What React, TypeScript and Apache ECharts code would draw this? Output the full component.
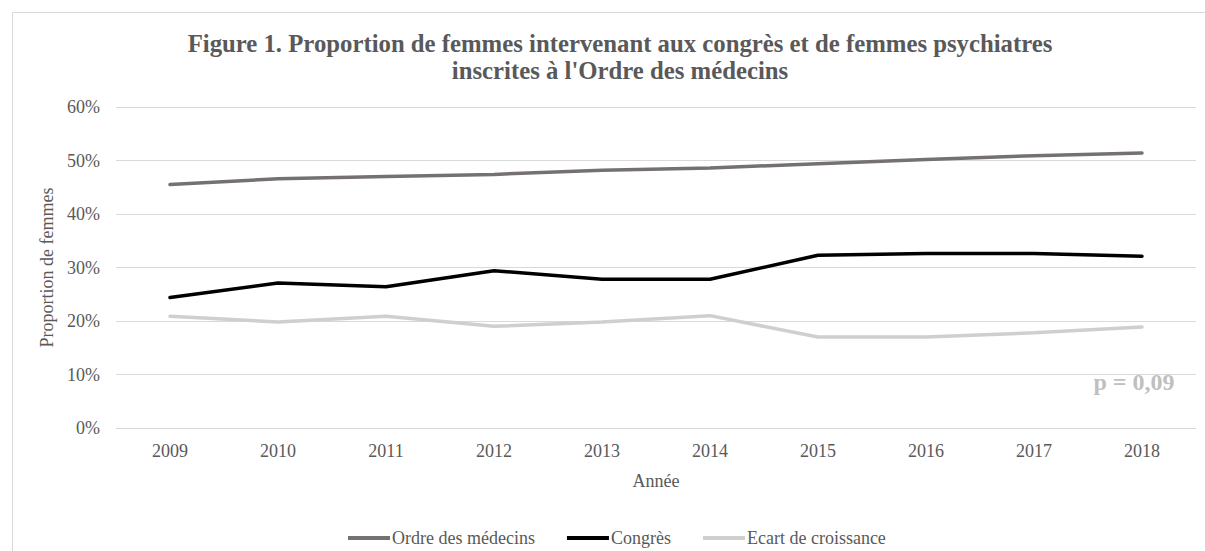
import React, { useEffect, useRef } from "react";
import * as echarts from "echarts";

const years = ["2009", "2010", "2011", "2012", "2013", "2014", "2015", "2016", "2017", "2018"];
const ordre = [45.5, 46.6, 47.0, 47.4, 48.2, 48.6, 49.4, 50.2, 50.9, 51.4];
const congres = [24.4, 27.1, 26.4, 29.4, 27.8, 27.8, 32.3, 32.6, 32.6, 32.1];
const ecart = [20.9, 19.8, 20.9, 19.0, 19.8, 21.0, 17.0, 17.0, 17.8, 18.9];
const seriesNames = ["Ordre des médecins", "Congrès", "Ecart de croissance"];
const titleLines = [
  "Figure 1. Proportion de femmes intervenant aux congrès et de femmes psychiatres",
  "inscrites à l'Ordre des médecins",
];
const annotation = "p = 0,09";

const FONT = "'Liberation Serif', 'Times New Roman', serif";
const TXT = "#595959";

export default function App() {
  const ref = useRef<HTMLDivElement>(null);
  useEffect(() => {
    if (!ref.current) return;
    const chart = echarts.init(ref.current, undefined, { renderer: "svg" });
    chart.setOption({
      animation: false,
      backgroundColor: "#ffffff",
      textStyle: { fontFamily: FONT },
      title: {
        text: titleLines.join("\n"),
        left: 615,
        textAlign: "center",
        top: 25,
        textStyle: {
          fontFamily: FONT,
          fontSize: 24.75,
          fontWeight: "bold",
          color: TXT,
          lineHeight: 27,
        },
      },
      graphic: [
        {
          type: "rect",
          shape: { x: 12.5, y: 12.5, width: 1220, height: 600 },
          style: { fill: "none", stroke: "#d9d9d9", lineWidth: 1 },
          silent: true,
          z: -1,
        },
        {
          type: "text",
          x: 1134,
          y: 382,
          style: {
            text: annotation,
            fill: "#bfbfbf",
            font: `bold 24px ${FONT}`,
            align: "center",
            verticalAlign: "middle",
          },
        },
      ],
      legend: {
        data: seriesNames,
        top: 524,
        left: 343,
        itemGap: 32,
        itemWidth: 42,
        itemHeight: 4,
        icon: "rect",
        textStyle: { fontFamily: FONT, fontSize: 18, color: TXT, padding: [0, 0, 0, -3] },
      },
      grid: { left: 116, right: 9, top: 107, bottom: 123 },
      xAxis: {
        type: "category",
        data: years,
        boundaryGap: true,
        name: "Année",
        nameLocation: "middle",
        nameGap: 44,
        nameTextStyle: { fontFamily: FONT, fontSize: 18, color: TXT },
        axisLine: { lineStyle: { color: "#d9d9d9", width: 1 } },
        axisTick: { show: false },
        axisLabel: { fontFamily: FONT, fontSize: 18, color: TXT, margin: 14 },
      },
      yAxis: {
        type: "value",
        min: 0,
        max: 60,
        interval: 10,
        name: "Proportion de femmes",
        nameLocation: "middle",
        nameGap: 60,
        nameRotate: 90,
        nameTextStyle: { fontFamily: FONT, fontSize: 18, color: TXT },
        axisLabel: { formatter: "{value}%", fontFamily: FONT, fontSize: 18, color: TXT, margin: 16 },
        splitLine: { lineStyle: { color: "#d9d9d9", width: 1 } },
      },
      series: [
        {
          name: seriesNames[0],
          type: "line",
          data: ordre,
          symbol: "none",
          lineStyle: { color: "#767171", width: 3.5, cap: "round" },
          itemStyle: { color: "#767171" },
        },
        {
          name: seriesNames[1],
          type: "line",
          data: congres,
          symbol: "none",
          lineStyle: { color: "#000000", width: 3.5, cap: "round" },
          itemStyle: { color: "#000000" },
        },
        {
          name: seriesNames[2],
          type: "line",
          data: ecart,
          symbol: "none",
          lineStyle: { color: "#d0cece", width: 3.5, cap: "round" },
          itemStyle: { color: "#d0cece" },
        },
      ],
    });
    return () => chart.dispose();
  }, []);
  return (
    <div
      ref={ref}
      style={{ position: "absolute", left: 0, top: 0, width: 1205, height: 551 }}
    />
  );
}
